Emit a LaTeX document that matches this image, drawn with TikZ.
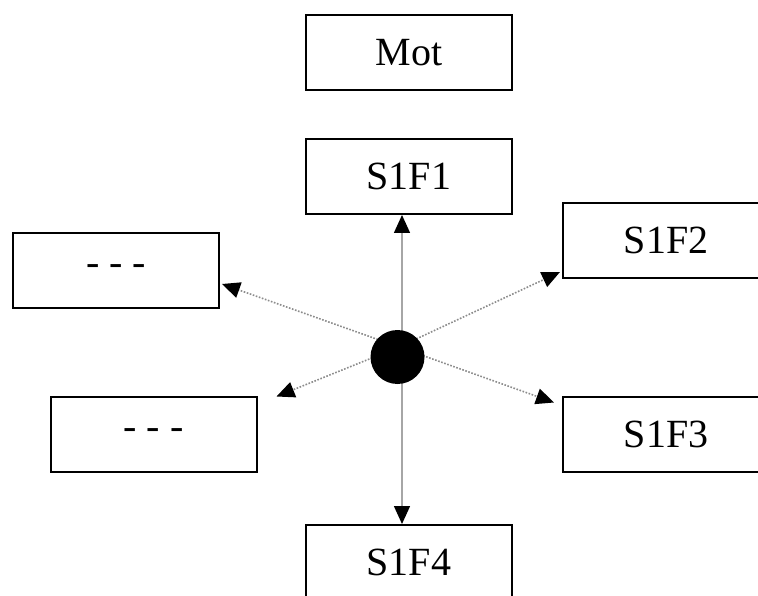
\documentclass[tikz,border=0pt]{standalone}
\usepackage{fontspec}
\setmainfont{Liberation Serif}
\usetikzlibrary{arrows.meta,calc}
\tikzset{
  box/.style={draw=black, line width=2pt, fill=white, rectangle, inner sep=0pt,
    minimum width=206pt, minimum height=75pt, font=\fontsize{40}{40}\selectfont},
  hubdot/.style={circle, fill=black, draw=none, minimum size=54pt, inner sep=0pt},
  tip/.style={-{Triangle[length=18pt,width=16pt,color=black]}},
  ray/.style={tip, draw=black!45, line width=1.6pt, dash pattern=on 1.6pt off 1.6pt},
  vray/.style={tip, draw=black!35, line width=1.5pt}
}
\begin{document}
\begin{tikzpicture}[x=1pt,y=-1pt]
\useasboundingbox (0,0) rectangle (758,596);
\clip (0,0) rectangle (758,596);
\fill[white] (0,0) rectangle (758,596);
\node[box] (mot)  at (409,52.5)  {Mot};
\node[box] (s1f1) at (409,176.5) {S1F1};
\node[box] (s1f2) at (666,240.5) {S1F2};
\node[box] (s1f3) at (666,434)   {S1F3};
\node[box] (s1f4) at (409,562.5) {S1F4};
\node[box] (d1)   at (116,270.5) {- - -};
\node[box] (d2)   at (153.5,434) {- - -};
\coordinate (hub) at (399,347);
\coordinate (vhub) at (402,347);
\draw[ray] (hub) -- ($(d1.east)+(2,13.5)$);
\draw[ray] (hub) -- ($(s1f2.south west)+(-2,-7)$);
\draw[ray] (hub) -- ($(d2.north east)+(19,1)$);
\draw[ray] (hub) -- ($(s1f3.north west)+(-8,7)$);
\draw[vray] (vhub) -- ($(s1f1.south)+(-7,0)$);
\draw[vray] (vhub) -- ($(s1f4.north)+(-7,0)$);
\node[hubdot] (dot) at (397.5,357) {};
\end{tikzpicture}
\end{document}
